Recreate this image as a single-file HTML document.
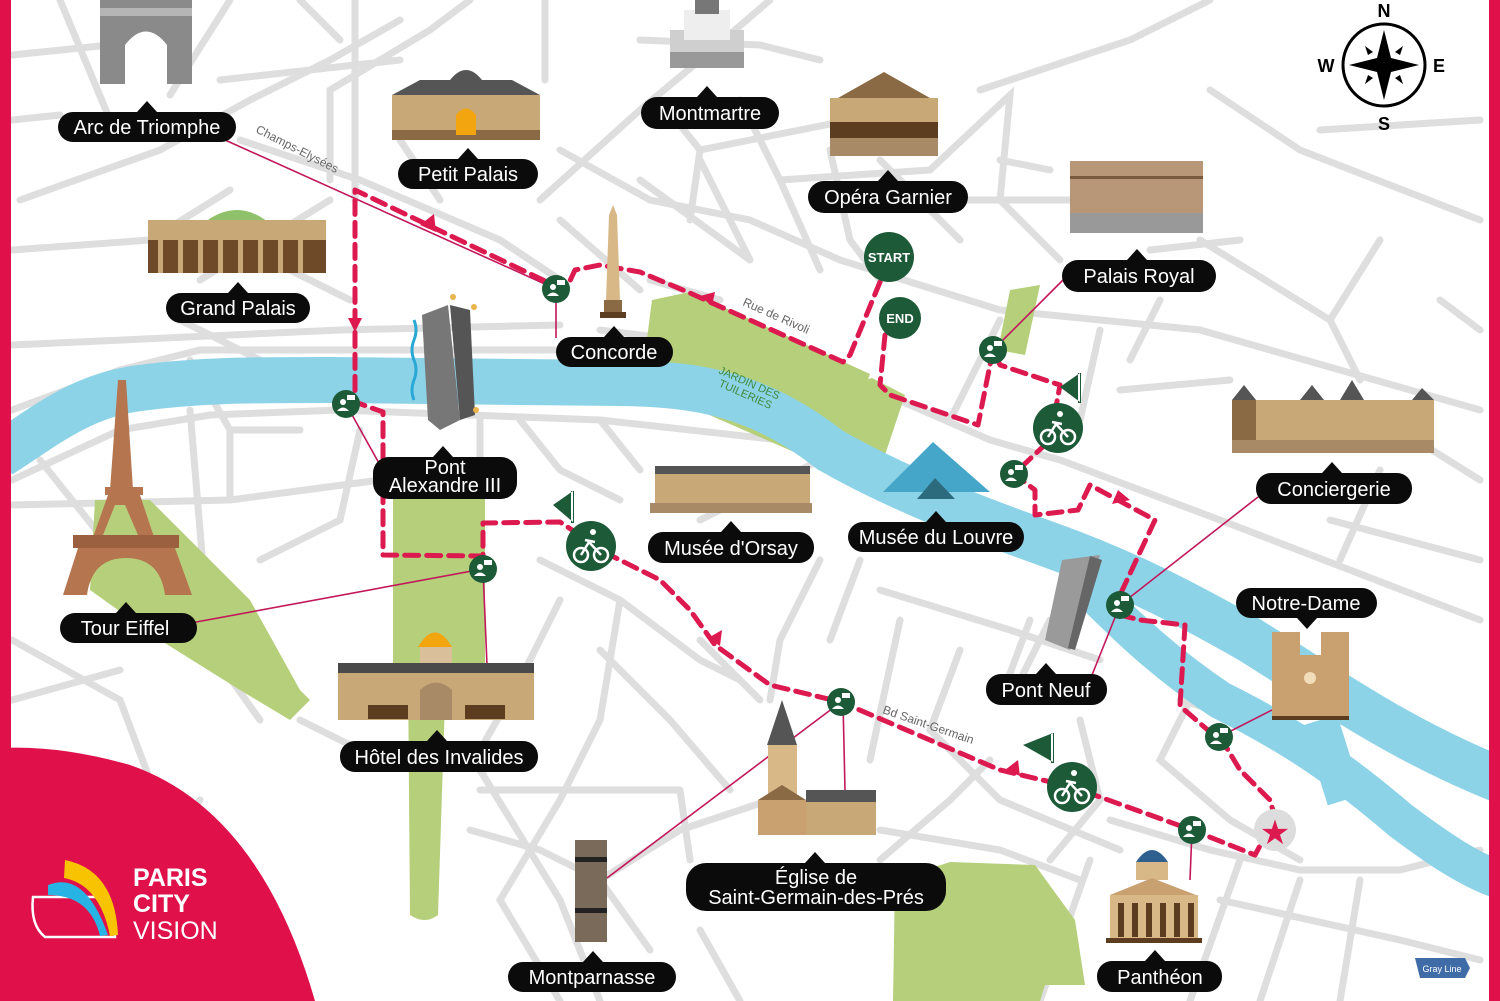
<!DOCTYPE html>
<html><head><meta charset="utf-8"><style>
html,body{margin:0;padding:0;background:#fff}
svg{display:block}
.lb{font-family:"Liberation Sans",sans-serif;font-size:20px;fill:#fff;text-anchor:middle}
.st{font-family:"Liberation Sans",sans-serif;font-size:12px;fill:#666}
</style></head><body>
<svg width="1500" height="1001" viewBox="0 0 1500 1001" xmlns="http://www.w3.org/2000/svg">
<rect width="1500" height="1001" fill="#fff"/>
<!-- roads -->
<g stroke="#dedede" stroke-width="7" fill="none" stroke-linecap="round">
<path d="M12 55 L110 45 M12 120 L60 115 M12 250 L150 240 M12 345 L340 330 L560 325 M12 505 L230 500 M40 460 L120 560 M12 700 L120 670 M12 830 L100 900 L180 1001"/>
<path d="M230 0 L170 95 M60 0 L110 120 M20 200 L160 150 L250 100 L330 60 L400 20 M240 140 L360 180 L500 240 L560 280"/>
<path d="M355 0 L355 200 M300 0 L340 40 M330 180 L330 90 L430 30 L470 0 M545 0 L545 80 M540 200 L640 110 L700 60 L770 0"/>
<path d="M150 240 L230 190 M270 260 L350 300 M180 320 L260 360 M330 200 L200 280"/>
<path d="M560 220 L640 290 M500 240 L560 280 M640 180 L750 260 M560 150 L650 200 L750 220 L840 260 L1000 310 L1200 330 L1480 410"/>
<path d="M640 40 L760 45 L820 60 M660 100 L700 150 L690 220 M700 150 L800 130 L850 120 M700 160 L750 260 M740 100 L780 180 L820 270 M780 180 L930 170 L1010 95 L1000 200"/>
<path d="M830 150 L850 240 L880 280 M880 160 L960 240 M940 200 L1075 200 M1000 200 L1060 260 M980 90 L1130 40 L1210 0 M1210 90 L1300 150 L1480 220 M1200 240 L1330 320 M1320 130 L1480 120"/>
<path d="M1000 320 L950 420 M1100 330 L1080 420 M1120 390 L1230 380 M1160 300 L1130 360 M1380 240 L1330 320 L1360 380 M1440 300 L1480 330"/>
<path d="M12 410 L120 370 L200 350 L330 350 L620 350 M12 480 L120 430 L210 415 L340 410 L600 420 L780 440 L980 510 L1100 550"/>
<path d="M600 330 L680 340 L830 370 L990 440 L1060 460 L1220 520 L1480 620"/>
<path d="M190 360 L230 430 L230 500 M190 410 L210 650 L260 720 M230 430 L300 430 M360 430 L340 520 L260 560 M230 500 L380 480"/>
<path d="M480 420 L480 500 M520 420 L560 470 L620 500 M600 420 L640 470 M700 520 L820 460 M840 440 L900 500"/>
<path d="M540 560 L620 600 L700 660 L740 680 M560 600 L520 680 L480 750 M600 650 L670 720 L730 790 M700 640 L760 700 M620 600 L600 720 L560 800 L500 900 L560 1001"/>
<path d="M820 560 L780 640 L770 700 M860 560 L830 640 M880 590 L1010 630 L1100 660 M900 620 L870 760 M960 650 L930 730 L1000 800 L1120 850 M1050 620 L1010 700"/>
<path d="M12 640 L120 700 L150 780 M200 800 L120 900 L80 1001 M300 720 L380 760 L440 760 M480 770 L560 900 L600 1001 M470 830 L540 850 L600 880 L680 830 L770 800 M480 790 L590 790 L680 790 M600 880 L650 950"/>
<path d="M680 790 L690 860 M700 930 L740 1001 M880 860 L950 800 L990 760 M880 830 L1000 850 L1080 880 M1090 860 L1040 1001"/>
<path d="M1000 700 L1030 620 M1080 720 L1100 800 L1050 860 M1200 680 L1160 760 L1230 820 L1300 860 M1110 820 L1210 850 L1300 870 L1400 870 L1480 850 M1180 700 L1280 730"/>
<path d="M1240 860 L1190 1001 M1300 880 L1260 1001 M1360 880 L1340 1001 M1220 900 L1400 940 L1480 960 M1400 430 L1480 480 M1380 470 L1340 560 M1330 520 L1480 560"/>
<path d="M220 80 L400 60 M400 140 L440 200 M650 280 L720 300 M870 420 L860 470 M1150 250 L1240 240 M1000 160 L1050 170"/>
</g>
<!-- parks -->
<g fill="#b5cf7a">
<polygon points="652,300 690,292 870,374 835,470 641,385"/>
<polygon points="833,390 872,378 905,395 880,470 835,470"/>
<polygon points="1010,290 1040,285 1025,355 998,350"/>
<polygon points="95,500 150,500 230,580 250,600 300,690 310,700 290,720 240,690 160,640 90,590"/>
<rect x="393" y="490" width="92" height="180"/>
<path d="M408 670 L446 670 L438 915 Q425 925 410 915 Z"/>
<polygon points="895,880 950,862 1035,865 1075,920 1085,985 1045,985 1040,1001 893,1001"/>
</g>
<!-- river -->
<g fill="none" stroke="#8dd3e8" stroke-linejoin="round">
<path d="M0 455 C40 430 80 395 140 388 C200 380 250 380 330 380 L620 383 C700 384 760 395 830 450 C900 490 980 520 1050 545 C1120 570 1180 600 1250 640 C1330 690 1400 740 1500 780" stroke-width="46"/>
<path d="M1080 580 C1120 620 1160 660 1220 700 C1280 730 1330 760 1400 820 C1440 850 1470 870 1500 880" stroke-width="38"/>
<path d="M1320 720 L1345 800" stroke-width="36"/>
</g>
<!-- thin connector lines -->
<g stroke="#c2185b" stroke-width="1.6" fill="none">
<path d="M225 140 L556 289 L556 338"/>
<path d="M346 404 L380 465"/>
<path d="M180 625 L483 569 L487 665"/>
<path d="M993 350 L1063 280"/>
<path d="M1120 605 L1258 497"/>
<path d="M1120 605 L1092 675"/>
<path d="M1219 737 L1272 710"/>
<path d="M1192 830 L1190 880"/>
<path d="M841 702 L607 878 M843 702 L845 790"/>
</g>
<!-- dashed route -->
<g stroke="#dc1a50" stroke-width="5" fill="none" stroke-dasharray="14 8" stroke-linecap="round" stroke-linejoin="round">
<path d="M880 282 L850 355 L843 362 L690 293 L640 272 L600 265 L575 270 L568 285 L545 281 L355 190 L355 402 L383 412 L383 555 L483 556 L483 523 L560 522 L610 555 L660 580 L690 610 L715 645 L770 685 L841 702 L1000 770 L1072 787 L1192 830 L1255 855 L1275 818 L1270 800 L1240 770 L1225 745 L1180 706 L1185 625 L1140 620 L1112 613 L1120 595 L1155 520 L1090 485 L1078 510 L1035 515 L1035 490 L1014 474 L1050 440 L1060 385 L1000 365 L993 350 L987 380 L978 425 L890 395 L880 385 L885 335"/>
</g>
<!-- arrowheads -->
<g fill="#dc1a50">
<polygon points="420,225 434,214 436,232"/>
<polygon points="348,318 362,318 355,332"/>
<polygon points="700,296 715,292 712,306"/>
<polygon points="708,638 722,630 720,646"/>
<polygon points="1005,770 1018,760 1020,776"/>
<polygon points="1118,490 1130,500 1112,504"/>
</g>
<!-- landmarks -->
<!-- Arc de triomphe -->
<g><rect x="100" y="0" width="92" height="84" fill="#8a8a8a"/><rect x="100" y="8" width="92" height="8" fill="#b5b5b5"/><path d="M125 84 L125 45 Q146 18 167 45 L167 84 Z" fill="#fff"/></g>
<!-- Petit Palais -->
<g><path d="M392 95 L540 95 L540 140 L392 140 Z" fill="#c9a878"/><path d="M392 95 L420 80 L512 80 L540 95Z" fill="#555"/><path d="M450 80 Q466 60 482 80Z" fill="#555"/><rect x="392" y="130" width="148" height="10" fill="#8a6a45"/><path d="M456 135 L456 115 Q466 102 476 115 L476 135Z" fill="#f3a50f"/></g>
<!-- Montmartre -->
<g><rect x="670" y="30" width="74" height="38" fill="#cfcfcf"/><rect x="684" y="10" width="46" height="30" fill="#eee"/><rect x="695" y="0" width="24" height="14" fill="#777"/><rect x="670" y="52" width="74" height="16" fill="#999"/></g>
<!-- Opera -->
<g><rect x="830" y="98" width="108" height="58" fill="#c9a878"/><path d="M838 98 L884 72 L930 98Z" fill="#8a6a45"/><rect x="830" y="122" width="108" height="16" fill="#5c3d1f"/><rect x="830" y="138" width="108" height="18" fill="#a88a66"/></g>
<!-- Palais Royal -->
<g><rect x="1070" y="161" width="133" height="52" fill="#b89778"/><rect x="1070" y="213" width="133" height="20" fill="#999"/><rect x="1070" y="176" width="133" height="3" fill="#7a5a3f"/></g>
<!-- Grand Palais -->
<g><path d="M205 222 Q237 198 268 222Z" fill="#8fc06a"/><rect x="148" y="220" width="178" height="53" fill="#c9a878"/><rect x="148" y="240" width="178" height="33" fill="#6e4a28"/><g fill="#c9a878"><rect x="158" y="240" width="5" height="33"/><rect x="178" y="240" width="5" height="33"/><rect x="198" y="240" width="5" height="33"/><rect x="218" y="240" width="5" height="33"/><rect x="238" y="240" width="5" height="33"/><rect x="258" y="240" width="5" height="33"/><rect x="278" y="240" width="5" height="33"/><rect x="298" y="240" width="5" height="33"/></g></g>
<!-- Obelisk -->
<g><path d="M609 215 L613 205 L617 215 L620 300 L606 300Z" fill="#d9b888"/><rect x="604" y="300" width="18" height="12" fill="#8a6a45"/><rect x="600" y="312" width="26" height="6" fill="#5c3d1f"/></g>
<!-- Pont Alexandre III -->
<g><path d="M422 315 L448 305 L460 420 L440 430 L428 420Z" fill="#777"/><path d="M450 305 L470 310 L475 415 L460 420Z" fill="#555"/><path d="M414 320 q4 10 0 20 q-4 10 0 20 q4 10 0 20 q-4 10 0 20" stroke="#29a8d6" stroke-width="3" fill="none"/><circle cx="453" cy="297" r="3" fill="#e9b44c"/><circle cx="474" cy="307" r="3" fill="#e9b44c"/><circle cx="476" cy="410" r="3" fill="#e9b44c"/></g>
<!-- Eiffel -->
<g fill="#b5764f"><path d="M118 380 L126 380 L133 490 L110 490Z"/><rect x="105" y="487" width="38" height="8"/><path d="M108 495 L140 495 L155 540 L92 540Z"/><rect x="73" y="535" width="106" height="13" fill="#9a6040"/><path d="M78 548 L175 548 L192 595 L165 595 Q160 558 126 558 Q92 558 87 595 L63 595Z"/><path d="M115 505 L125 505 L138 535 L103 535Z" fill="#b5cf7a"/></g>
<!-- Conciergerie -->
<g><rect x="1232" y="400" width="202" height="53" fill="#c9a878"/><path d="M1232 400 L1244 385 L1256 400Z M1300 400 L1312 385 L1324 400Z M1340 400 L1352 380 L1364 400Z M1412 400 L1422 388 L1434 400Z" fill="#555"/><rect x="1232" y="400" width="24" height="53" fill="#8a6a45"/><rect x="1232" y="440" width="202" height="13" fill="#a88a66"/></g>
<!-- Orsay -->
<g><rect x="655" y="472" width="155" height="32" fill="#c9a878"/><rect x="655" y="466" width="155" height="8" fill="#555"/><rect x="650" y="503" width="162" height="10" fill="#a88a66"/></g>
<!-- Louvre pyramid -->
<g><path d="M883 492 L933 442 L990 492Z" fill="#45a6c9"/><path d="M917 499 L935 478 L955 499Z" fill="#2c6a7e"/></g>
<!-- Pont Neuf -->
<g><path d="M1062 560 L1100 555 L1070 650 L1045 640Z" fill="#9a9a9a"/><path d="M1090 556 L1102 560 L1075 650 L1068 648Z" fill="#666"/></g>
<!-- Notre-Dame -->
<g fill="#c9a070"><rect x="1272" y="632" width="28" height="40"/><rect x="1321" y="632" width="28" height="40"/><rect x="1272" y="655" width="77" height="63"/><rect x="1272" y="716" width="77" height="4" fill="#5c3d1f"/><circle cx="1310" cy="678" r="6" fill="#f2dcb9"/></g>
<!-- Invalides -->
<g><path d="M418 647 Q435 618 452 647Z" fill="#f3a50f"/><rect x="420" y="647" width="32" height="25" fill="#d9c09a"/><rect x="338" y="668" width="196" height="52" fill="#c9a878"/><rect x="338" y="663" width="196" height="10" fill="#4a4a4a"/><path d="M420 720 L420 690 Q436 675 452 690 L452 720Z" fill="#a88a66"/><g fill="#5c3d1f"><rect x="368" y="705" width="40" height="14"/><rect x="465" y="705" width="40" height="14"/></g></g>
<!-- Saint-Germain -->
<g><path d="M767 745 L782 700 L797 745Z" fill="#555"/><rect x="768" y="745" width="29" height="90" fill="#d9b888"/><path d="M758 800 L782 785 L806 800Z" fill="#8a6a45"/><rect x="758" y="800" width="48" height="35" fill="#c9a070"/><rect x="806" y="790" width="70" height="45" fill="#c9a878"/><rect x="806" y="790" width="70" height="12" fill="#555"/></g>
<!-- Montparnasse -->
<g><rect x="575" y="840" width="32" height="102" fill="#7a6a5a"/><rect x="575" y="857" width="32" height="5" fill="#222"/><rect x="575" y="908" width="32" height="5" fill="#222"/></g>
<!-- Pantheon -->
<g><path d="M1136 862 Q1152 838 1168 862Z" fill="#2e5f8f"/><rect x="1136" y="862" width="32" height="18" fill="#d9b888"/><path d="M1110 895 L1152 878 L1196 895Z" fill="#c9a070"/><rect x="1110" y="895" width="88" height="44" fill="#d9b888"/><g fill="#5c3d1f"><rect x="1118" y="903" width="6" height="34"/><rect x="1132" y="903" width="6" height="34"/><rect x="1146" y="903" width="6" height="34"/><rect x="1160" y="903" width="6" height="34"/><rect x="1174" y="903" width="6" height="34"/><rect x="1188" y="903" width="6" height="34"/></g><rect x="1106" y="938" width="96" height="5" fill="#5c3d1f"/></g>
<!-- green markers -->
<g fill="#1d5a38">
<circle cx="556" cy="289" r="14"/><circle cx="346" cy="404" r="14"/><circle cx="483" cy="569" r="14"/><circle cx="841" cy="702" r="14"/><circle cx="993" cy="350" r="14"/><circle cx="1014" cy="474" r="14"/><circle cx="1120" cy="605" r="14"/><circle cx="1219" cy="737" r="14"/><circle cx="1192" cy="830" r="14"/>
<circle cx="1058" cy="428" r="25"/><circle cx="591" cy="546" r="25"/><circle cx="1072" cy="787" r="25"/>
<circle cx="889" cy="257" r="25"/><circle cx="900" cy="318" r="21"/>
<path d="M1080 402 L1080 373 L1060 387 Z M1078 373 h3 v30 h-3z"/>
<path d="M573 522 L573 491 L553 505 Z M571 491 h3 v32 h-3z"/>
<path d="M1053 762 L1053 733 L1023 745 Z M1051 733 h3 v30 h-3z"/>
</g>
<g fill="#fff">
<circle cx="553" cy="287" r="3"/><path d="M547 296 q6 -7 12 0z"/><rect x="557" y="280" width="8" height="5"/>
<circle cx="343" cy="402" r="3"/><path d="M337 411 q6 -7 12 0z"/><rect x="347" y="395" width="8" height="5"/>
<circle cx="480" cy="567" r="3"/><path d="M474 576 q6 -7 12 0z"/><rect x="484" y="560" width="8" height="5"/>
<circle cx="838" cy="700" r="3"/><path d="M832 709 q6 -7 12 0z"/><rect x="842" y="693" width="8" height="5"/>
<circle cx="990" cy="348" r="3"/><path d="M984 357 q6 -7 12 0z"/><rect x="994" y="341" width="8" height="5"/>
<circle cx="1011" cy="472" r="3"/><path d="M1005 481 q6 -7 12 0z"/><rect x="1015" y="465" width="8" height="5"/>
<circle cx="1117" cy="603" r="3"/><path d="M1111 612 q6 -7 12 0z"/><rect x="1121" y="596" width="8" height="5"/>
<circle cx="1216" cy="735" r="3"/><path d="M1210 744 q6 -7 12 0z"/><rect x="1220" y="728" width="8" height="5"/>
<circle cx="1189" cy="828" r="3"/><path d="M1183 837 q6 -7 12 0z"/><rect x="1193" y="821" width="8" height="5"/>
</g>
<g fill="none" stroke="#fff" stroke-width="2.5">
<circle cx="1048" cy="437" r="7"/><circle cx="1068" cy="437" r="7"/><path d="M1048 437 L1056 424 L1068 437 M1052 422 L1062 424"/>
<circle cx="581" cy="555" r="7"/><circle cx="601" cy="555" r="7"/><path d="M581 555 L589 542 L601 555 M585 540 L595 542"/>
<circle cx="1062" cy="796" r="7"/><circle cx="1082" cy="796" r="7"/><path d="M1062 796 L1070 783 L1082 796 M1066 781 L1076 783"/>
</g>
<g fill="#fff"><circle cx="1060" cy="414" r="3"/><circle cx="593" cy="532" r="3"/><circle cx="1074" cy="773" r="3"/></g>
<text x="889" y="262" font-family="Liberation Sans,sans-serif" font-size="13" font-weight="bold" fill="#fff" text-anchor="middle">START</text>
<text x="900" y="323" font-family="Liberation Sans,sans-serif" font-size="13" font-weight="bold" fill="#fff" text-anchor="middle">END</text>
<circle cx="1275" cy="830" r="21" fill="#ddd"/>
<text x="1275" y="844" font-size="34" fill="#dc1a50" text-anchor="middle" font-family="DejaVu Sans,sans-serif">★</text>
<!-- street names -->
<text class="st" transform="translate(255 132) rotate(27)">Champs-Elysées</text>
<text class="st" transform="translate(742 305) rotate(24)">Rue de Rivoli</text>
<text class="st" transform="translate(882 713) rotate(19)">Bd Saint-Germain</text>
<text transform="translate(718 373) rotate(24)" font-family="Liberation Sans,sans-serif" font-size="11" fill="#3f8a3a" text-anchor="start">JARDIN DES</text>
<text transform="translate(718 386) rotate(24)" font-family="Liberation Sans,sans-serif" font-size="11" fill="#3f8a3a">TUILERIES</text>
<!-- labels -->
<g fill="#0b0b0b">
<rect x="58" y="112" width="178" height="30" rx="15"/><path d="M137 112 L147 101 L157 112Z"/>
<rect x="398" y="159" width="140" height="30" rx="15"/><path d="M458 159 L468 148 L478 159Z"/>
<rect x="641" y="97" width="138" height="32" rx="16"/><path d="M697 97 L707 86 L717 97Z"/>
<rect x="808" y="181" width="160" height="32" rx="16"/><path d="M878 181 L888 170 L898 181Z"/>
<rect x="1062" y="260" width="154" height="32" rx="16"/><path d="M1127 260 L1137 249 L1147 260Z"/>
<rect x="166" y="293" width="144" height="30" rx="15"/><path d="M228 293 L238 282 L248 293Z"/>
<rect x="556" y="337" width="117" height="30" rx="15"/><path d="M604 337 L614 326 L624 337Z"/>
<rect x="373" y="457" width="144" height="42" rx="16"/><path d="M433 457 L443 446 L453 457Z"/>
<rect x="1256" y="473" width="156" height="31" rx="15"/><path d="M1322 473 L1332 462 L1342 473Z"/>
<rect x="648" y="532" width="166" height="31" rx="15"/><path d="M721 532 L731 521 L741 532Z"/>
<rect x="848" y="522" width="176" height="30" rx="15"/><path d="M926 522 L936 511 L946 522Z"/>
<rect x="1236" y="588" width="141" height="30" rx="15"/><path d="M1297 618 L1307 629 L1317 618Z"/>
<rect x="60" y="613" width="137" height="30" rx="15"/><path d="M116 613 L126 602 L136 613Z"/>
<rect x="986" y="674" width="121" height="31" rx="15"/><path d="M1036 674 L1046 663 L1056 674Z"/>
<rect x="340" y="741" width="198" height="31" rx="15"/><path d="M427 741 L437 730 L447 741Z"/>
<rect x="686" y="863" width="260" height="48" rx="20"/><path d="M805 863 L815 852 L825 863Z"/>
<rect x="508" y="962" width="168" height="30" rx="15"/><path d="M583 962 L593 951 L603 962Z"/>
<rect x="1097" y="961" width="125" height="31" rx="15"/><path d="M1145 961 L1155 950 L1165 961Z"/>
</g>
<text class="lb" x="147" y="134">Arc de Triomphe</text>
<text class="lb" x="468" y="181">Petit Palais</text>
<text class="lb" x="710" y="120">Montmartre</text>
<text class="lb" x="888" y="204">Opéra Garnier</text>
<text class="lb" x="1139" y="283">Palais Royal</text>
<text class="lb" x="238" y="315">Grand Palais</text>
<text class="lb" x="614" y="359">Concorde</text>
<text class="lb" x="445" y="474" font-size="18">Pont</text>
<text class="lb" x="445" y="492" font-size="18">Alexandre III</text>
<text class="lb" x="1334" y="496">Conciergerie</text>
<text class="lb" x="731" y="555">Musée d'Orsay</text>
<text class="lb" x="936" y="544">Musée du Louvre</text>
<text class="lb" x="1306" y="610">Notre-Dame</text>
<text class="lb" x="125" y="635">Tour Eiffel</text>
<text class="lb" x="1046" y="697">Pont Neuf</text>
<text class="lb" x="439" y="764">Hôtel des Invalides</text>
<text class="lb" x="816" y="884" font-size="19">Église de</text>
<text class="lb" x="816" y="904" font-size="19">Saint-Germain-des-Prés</text>
<text class="lb" x="592" y="984">Montparnasse</text>
<text class="lb" x="1160" y="984">Panthéon</text>
<!-- compass -->
<g><circle cx="1384" cy="65" r="41" fill="none" stroke="#000" stroke-width="3"/>
<path d="M1384 30 L1391 58 L1419 65 L1391 72 L1384 100 L1377 72 L1349 65 L1377 58Z" fill="#000"/>
<path d="M1365 46 L1373 52 L1368 55Z M1403 46 L1395 52 L1400 55Z M1365 84 L1373 78 L1368 75Z M1403 84 L1395 78 L1400 75Z" fill="#000"/>
<g font-family="Liberation Sans,sans-serif" font-weight="bold" font-size="18" text-anchor="middle"><text x="1384" y="17">N</text><text x="1384" y="130">S</text><text x="1326" y="72">W</text><text x="1439" y="72">E</text></g></g>
<!-- gray line logo -->
<g><path d="M1415 958 L1465 958 L1470 968 L1465 978 L1420 978 Z" fill="#3f6ca6"/><text x="1442" y="972" font-family="Liberation Sans,sans-serif" font-size="9" fill="#fff" text-anchor="middle">Gray Line</text></g>
<!-- frame and logo -->
<rect x="0" y="0" width="11" height="1001" fill="#e0104a"/>
<rect x="1489" y="0" width="11" height="1001" fill="#e0104a"/>
<path d="M0 748 Q60 745 130 765 Q260 810 315 1001 L0 1001 Z" fill="#e0104a"/>
<g><path d="M33 897 L100 897 Q115 910 115 937 L45 937 Q30 925 33 897Z" fill="#e0104a" stroke="#fff" stroke-width="2.5"/>
<path d="M48 885 Q85 870 108 935 L100 936 Q90 895 48 895Z" fill="#27b3e3"/>
<path d="M65 860 Q115 870 118 935 L110 936 Q100 885 64 878Z" fill="#f8c300"/>
<text x="133" y="886" font-family="Liberation Sans,sans-serif" font-weight="bold" font-size="25" fill="#fff">PARIS</text>
<text x="133" y="912" font-family="Liberation Sans,sans-serif" font-weight="bold" font-size="25" fill="#fff">CITY</text>
<text x="133" y="939" font-family="Liberation Sans,sans-serif" font-size="25" fill="#fff">VISION</text></g>
</svg>
</body></html>
